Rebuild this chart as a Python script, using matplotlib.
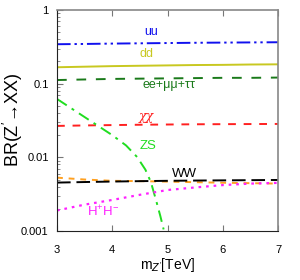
import matplotlib
matplotlib.use("Agg")
import matplotlib.pyplot as plt
from matplotlib.ticker import FixedLocator, FixedFormatter, LogLocator, NullFormatter

plt.rcParams["font.family"] = ["Liberation Sans", "DejaVu Sans"]
plt.rcParams["mathtext.fontset"] = "custom"
plt.rcParams["mathtext.rm"] = "Liberation Sans"

# m_Z' in TeV and branching ratios
m = [3.0, 3.5, 4.0, 4.5, 5.0, 5.5, 6.0, 6.5, 7.0]
br_uu = [0.343, 0.346, 0.350, 0.353, 0.356, 0.359, 0.361, 0.363, 0.365]
br_dd = [0.167, 0.170, 0.173, 0.175, 0.177, 0.179, 0.180, 0.182, 0.183]
br_ll = [0.112, 0.114, 0.116, 0.117, 0.118, 0.119, 0.120, 0.120, 0.121]
br_xx = [0.0267, 0.0271, 0.0274, 0.0277, 0.0279, 0.0281, 0.0282, 0.0283, 0.0284]
br_ww = [0.00454, 0.00462, 0.00469, 0.00475, 0.00480, 0.00484, 0.00487, 0.00490, 0.00493]
br_or = [0.0053, 0.0050, 0.0048, 0.00475, 0.00468, 0.00460, 0.00452, 0.00446, 0.0044]
br_hh = [0.0019, 0.00228, 0.00264, 0.0031, 0.0036, 0.0039, 0.0042, 0.0044, 0.0045]

m_zs = [3.0, 3.5, 4.0, 4.25, 4.45, 4.6, 4.7, 4.8, 4.87, 4.93]
br_zs = [0.062, 0.0352, 0.020, 0.0145, 0.0101, 0.0068, 0.0046, 0.0025, 0.0016, 0.00105]

fig = plt.figure(figsize=(3.0, 2.8), dpi=100)
ax = fig.add_axes([57 / 300, 1 - 231 / 280, 221 / 300, 221 / 280])

ax.plot(m, br_uu, color="#1010ee", lw=1.4, dashes=(7, 2, 1.2, 2, 1.2, 2))
ax.plot(m, br_dd, color="#c8c820", lw=1.4)
ax.plot(m, br_ll, color="#1a7a1a", lw=1.4, dashes=(5, 5))
ax.plot(m, br_xx, color="#ff2020", lw=1.4, dashes=(4, 4))
ax.plot(m_zs, br_zs, color="#20dd20", lw=1.4, dashes=(6, 3, 1.5, 3))
ax.plot(m, br_or, color="#ffa020", lw=1.4, dashes=(3, 3))
ax.plot(m, br_ww, color="black", lw=1.4, dashes=(7, 3))
ax.plot(m, br_hh, color="#ff20ff", lw=1.6, dashes=(1.2, 2.2))

ax.set_yscale("log")
ax.set_xlim(3, 7)
ax.set_ylim(0.001, 1)

ax.yaxis.set_major_locator(FixedLocator([0.001, 0.01, 0.1, 1]))
ax.yaxis.set_major_formatter(FixedFormatter(["0.001", "0.01", "0.1", "1"]))
ax.yaxis.set_minor_locator(LogLocator(base=10, subs=range(2, 10)))
ax.yaxis.set_minor_formatter(NullFormatter())
ax.set_xticks([3, 4, 5, 6, 7])

ax.tick_params(which="both", direction="in", labelsize=8, top=True, right=False,
               pad=6, color="#777777")
ax.tick_params(which="major", length=4)
ax.tick_params(which="minor", length=2)
ax.tick_params(axis="x", pad=10)
for side in ("left", "bottom"):
    ax.spines[side].set_color("#222222")
for side in ("top", "right"):
    ax.spines[side].set_color("#888888")
    ax.spines[side].set_linewidth(1.2)

fs = 9
ax.text(4.7, 0.50, "uu", color="#1010ee", fontsize=fs, ha="center", va="center")
ax.text(4.62, 0.253, "dd", color="#c8c820", fontsize=fs, ha="center", va="center")
ax.text(5.03, 0.097, "ee+μμ+ττ", color="#1a7a1a", fontsize=fs, ha="center", va="center")
ax.text(4.62, 0.036, "χχ", color="#ff2020", fontsize=fs, ha="center", va="center",
        style="italic", family="DejaVu Serif")
ax.text(4.65, 0.0143, "ZS", color="#20dd20", fontsize=fs + 0.5, ha="center", va="center")
ax.text(5.3, 0.0060, "WW", color="black", fontsize=fs + 0.5, ha="center", va="center")
ax.text(3.83, 0.00185, "H$^{+}$H$^{-}$", color="#ff20ff", fontsize=fs + 0.5,
        ha="center", va="center")

ax.set_ylabel("BR(Z$^{\\prime}$→XX)", fontsize=13)
ax.yaxis.set_label_coords(-0.145, 0.5)
ax.set_xlabel("m$_{Z^{\\prime}}$[TeV]", fontsize=10, labelpad=1)

fig.savefig("out.png", dpi=100)
